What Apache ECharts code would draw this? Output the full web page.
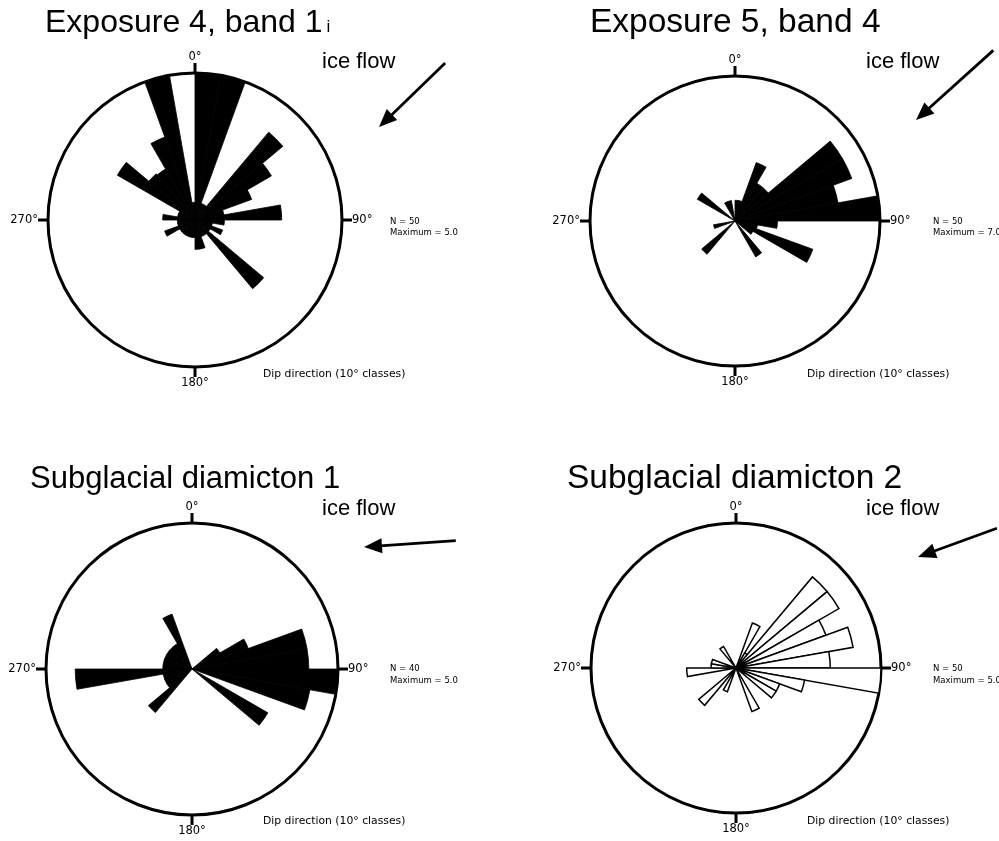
<!DOCTYPE html>
<html>
<head>
<meta charset="utf-8">
<script src="https://cdn.jsdelivr.net/npm/echarts@6/dist/echarts.min.js"></script>
<style>
  html, body { margin: 0; padding: 0; background: #fff; }
  #chart { width: 999px; height: 841px; }
</style>
</head>
<body>
<div id="chart"></div>
<script>
// 10-degree dip-direction classes, clockwise from north
const classes = ['0-10','10-20','20-30','30-40','40-50','50-60','60-70','70-80','80-90',
  '90-100','100-110','110-120','120-130','130-140','140-150','150-160','160-170','170-180',
  '180-190','190-200','200-210','210-220','220-230','230-240','240-250','250-260','260-270',
  '270-280','280-290','290-300','300-310','310-320','320-330','330-340','340-350','350-360'];

// class frequencies for each rose
const exposure4Band1 = [5, 5, 0.6, 0.6, 3.9, 3.0, 2.05, 1.0, 2.95,
  1.0, 0.6, 1.0, 0.6, 3.05, 0.6, 0.6, 1.0, 1.0,
  0.6, 0.6, 0.6, 0.6, 0.6, 0.6, 1.1, 0.6, 0.6,
  1.1, 0.6, 0.6, 3.05, 2.05, 2.0, 3.0, 5, 0.6];
const exposure5Band4 = [1, 1, 3, 2.1, 2.1, 6, 6, 5.05, 7,
  2.05, 1.1, 4, 1, 0, 2, 0, 0, 0,
  0, 0, 0, 0, 2.1, 0, 0, 1.05, 0,
  0, 0, 0, 2.1, 0, 0, 1, 1, 0];
const diamicton1 = [0, 0, 0, 0, 0, 1.1, 2.05, 4, 4,
  5, 4.1, 0, 3, 0, 0, 0, 0, 0,
  0, 0, 0, 0, 1.95, 1, 1, 1, 4,
  1, 1, 1, 1, 1, 1, 2, 0, 0];
const diamicton2 = [0, 0, 1.65, 0.6, 4.1, 4.1, 3.3, 4.1, 3.25,
  5, 2.4, 1.6, 1.6, 0, 0, 1.6, 0, 0,
  0, 0, 0.87, 0, 1.68, 0, 0, 0, 1.7,
  0.86, 0.86, 0, 0, 0, 0.86, 0, 0, 0];

const panelTitles = ['Exposure 4, band 1', 'Exposure 5, band 4', 'Subglacial diamicton 1', 'Subglacial diamicton 2'];
const titleSubscripts = ['i', '', '', ''];
const sampleSizes = [50, 50, 40, 50];
const maxima = [5.0, 7.0, 5.0, 5.0];
const iceFlowAzimuth = [226, 228, 266, 250];   // direction the ice moved towards
const tickLabels = ['0°', '90°', '180°', '270°'];
const axisNote = 'Dip direction (10° classes)';
const flowLabel = 'ice flow';

const roses = [exposure4Band1, exposure5Band4, diamicton1, diamicton2];
const outlineOnly = [false, false, false, true];

// panel geometry (pixels)
const layout = [
  { cx: 195, cy: 220, r: 147, titleX: 45,  titleY: 23,  titleSize: 32,   flowX: 322, flowY: 62,  tip: [379, 127], len: 92,  statX: 390, statY: 221.5, noteX: 263, noteY: 374 },
  { cx: 735, cy: 221, r: 145, titleX: 590, titleY: 23,  titleSize: 33.5, flowX: 866, flowY: 62,  tip: [916, 120], len: 104, statX: 933, statY: 221.5, noteX: 807, noteY: 374 },
  { cx: 192, cy: 669, r: 146, titleX: 30,  titleY: 479, titleSize: 31,   flowX: 322, flowY: 509, tip: [364, 547], len: 92,  statX: 390, statY: 669,   noteX: 263, noteY: 821 },
  { cx: 736, cy: 668, r: 145, titleX: 567, titleY: 479, titleSize: 33.5, flowX: 866, flowY: 509, tip: [918, 557], len: 84,  statX: 933, statY: 669,   noteX: 807, noteY: 821 }
];

const SANS = '"Liberation Sans", Arial, sans-serif';
const SMALL = '"DejaVu Sans", Verdana, sans-serif';
const measure = (() => {
  const ctx = document.createElement('canvas').getContext('2d');
  return (text, font) => { ctx.font = font; return ctx.measureText(text).width; };
})();

const polar = [], angleAxis = [], radiusAxis = [], series = [], elements = [];

layout.forEach((L, i) => {
  const center = [L.cx, L.cy];
  const pBars = polar.length;
  polar.push({ center, radius: L.r });
  const pTicks = polar.length;
  polar.push({ center, radius: L.r });

  // class sectors + outer circle
  angleAxis.push({
    polarIndex: pBars, type: 'category', data: classes, startAngle: 90, clockwise: true, boundaryGap: true,
    axisLine: { show: true, lineStyle: { color: '#000', width: 3 } },
    axisTick: { show: false }, axisLabel: { show: false },
    splitLine: { show: false }, splitArea: { show: false }
  });
  radiusAxis.push({ polarIndex: pBars, type: 'value', min: 0, max: maxima[i], show: false });

  // compass ticks at the cardinal directions
  angleAxis.push({
    polarIndex: pTicks, type: 'value', min: 0, max: 360, interval: 90, startAngle: 90, clockwise: true,
    axisLine: { show: false },
    axisTick: { show: true, length: 10, lineStyle: { color: '#000', width: 3 } },
    axisLabel: { show: true, margin: 10, color: '#000', fontSize: 11.5, fontFamily: SMALL,
      formatter: v => tickLabels[Math.round(v / 90)] || '' },
    splitLine: { show: false }
  });
  radiusAxis.push({ polarIndex: pTicks, type: 'value', min: 0, max: 1, show: false });

  series.push({
    type: 'bar', coordinateSystem: 'polar', polarIndex: pBars,
    data: roses[i], barCategoryGap: '0%', barGap: '0%',
    itemStyle: outlineOnly[i]
      ? { color: '#fff', borderColor: '#000', borderWidth: 1.5 }
      : { color: '#000', borderColor: '#000', borderWidth: 0.8 },
    silent: true, animation: false
  });

  // panel title
  const titleFont = L.titleSize + 'px ' + SANS;
  elements.push({ type: 'text', x: L.titleX, y: L.titleY, silent: true,
    style: { text: panelTitles[i], font: titleFont, fill: '#000', textAlign: 'left', textVerticalAlign: 'middle' } });
  if (titleSubscripts[i]) {
    const w = measure(panelTitles[i], titleFont);
    elements.push({ type: 'text', x: L.titleX + w + 4, y: L.titleY + 4, silent: true,
      style: { text: titleSubscripts[i], font: '17px ' + SANS, fill: '#000', textAlign: 'left', textVerticalAlign: 'middle' } });
  }

  // ice-flow label and arrow
  elements.push({ type: 'text', x: L.flowX, y: L.flowY, silent: true,
    style: { text: flowLabel, font: '22px ' + SANS, fill: '#000', textAlign: 'left', textVerticalAlign: 'middle' } });
  const a = iceFlowAzimuth[i] * Math.PI / 180;
  const dx = Math.sin(a), dy = -Math.cos(a);
  const [tx, ty] = L.tip;
  const headLen = 18, headHalf = 7.5;
  const bx = tx - dx * headLen, by = ty - dy * headLen;
  elements.push({ type: 'line', silent: true,
    shape: { x1: tx - dx * L.len, y1: ty - dy * L.len, x2: bx + dx * 2, y2: by + dy * 2 },
    style: { stroke: '#000', lineWidth: 2.8 } });
  elements.push({ type: 'polygon', silent: true,
    shape: { points: [[tx, ty], [bx - dy * headHalf, by + dx * headHalf], [bx + dy * headHalf, by - dx * headHalf]] },
    style: { fill: '#000' } });

  // sample statistics
  elements.push({ type: 'text', x: L.statX, y: L.statY, silent: true,
    style: { text: 'N = ' + sampleSizes[i], font: '8.5px ' + SMALL, fill: '#000', textAlign: 'left', textVerticalAlign: 'middle' } });
  elements.push({ type: 'text', x: L.statX, y: L.statY + 11.5, silent: true,
    style: { text: 'Maximum = ' + maxima[i].toFixed(1), font: '8.5px ' + SMALL, fill: '#000', textAlign: 'left', textVerticalAlign: 'middle' } });

  // class note
  elements.push({ type: 'text', x: L.noteX, y: L.noteY, silent: true,
    style: { text: axisNote, font: '10.8px ' + SMALL, fill: '#000', textAlign: 'left', textVerticalAlign: 'middle' } });
});

const chart = echarts.init(document.getElementById('chart'));
chart.setOption({
  backgroundColor: '#fff',
  animation: false,
  polar, angleAxis, radiusAxis, series,
  graphic: { elements }
});
</script>
</body>
</html>
